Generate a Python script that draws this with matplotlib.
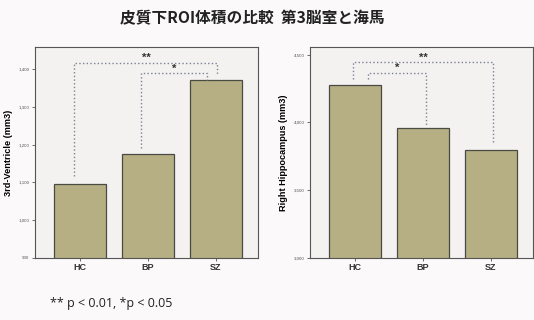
import matplotlib.pyplot as plt
import numpy as np

# グループと各ROIの平均体積
groups = ['HC', 'BP', 'SZ']
ventricle = [1096, 1174, 1370]
hippocampus = [4279, 3959, 3799]

ventricle_ticks = [900, 1000, 1100, 1200, 1300, 1400]
hippo_ticks = [3000, 3500, 4000, 4500]

# 有意差の組み合わせ (群i, 群j, 記号)
ventricle_sig = [(0, 2, '**'), (1, 2, '*')]
hippo_sig = [(0, 2, '**'), (0, 1, '*')]

bar_color = '#b6af83'
edge_color = '#4a4a44'
panel_bg = '#f4f1f1'
line_color = '#7a8294'

plt.rcParams['font.family'] = ['Liberation Sans', 'DejaVu Sans']

fig = plt.figure(figsize=(5.34, 3.2), dpi=100)
fig.patch.set_facecolor('#fbf9f9')


def draw_panel(ax, values, ticks, ylim, ylabel):
    x = np.arange(len(groups))
    ax.set_facecolor(panel_bg)
    ax.bar(x, values, width=0.76, color=bar_color, edgecolor=edge_color, linewidth=0.9, zorder=2)
    ax.set_xlim(-0.66, 2.62)
    ax.set_ylim(*ylim)
    ax.set_xticks(x)
    ax.set_xticklabels(groups, fontsize=6.5, fontweight='bold', color='#333333')
    ax.set_yticks(ticks)
    ax.set_yticklabels([f'{t:,}' for t in ticks], fontsize=3.2, color='#555555')
    ax.tick_params(axis='both', length=2.5, width=0.6, color='#555555', pad=1.5)
    ax.set_ylabel(ylabel, fontsize=6.6, fontweight='bold', labelpad=4)
    for sp in ax.spines.values():
        sp.set_color('#555555')
        sp.set_linewidth(0.8)


def bracket(ax, i, j, y_left, y_right, top, dx_left, dx_right, label):
    xl = i + dx_left
    xr = j + dx_right
    ax.plot([xl, xl, xr, xr], [y_left, top, top, y_right], color=line_color,
            linestyle=':', linewidth=1.0, zorder=3)
    ax.text((xl + xr) / 2, top, label, ha='center', va='bottom', fontsize=8,
            fontweight='bold', color='#333333')


# 第3脳室
ax1 = fig.add_axes([0.0655, 0.194, 0.418, 0.659])
draw_panel(ax1, ventricle, ventricle_ticks, (900, 1458), '3rd-Ventricle (mm3)')
for (i, j, lab), top, dl, dr, gl, gr in zip(ventricle_sig, [1417, 1388], [-0.08, -0.1], [0.02, -0.13],
                                          [20, 18], [17, 2]):
    bracket(ax1, i, j, ventricle[i] + gl, ventricle[j] + gr, top, dl, dr, lab)

# 右海馬
ax2 = fig.add_axes([0.5805, 0.194, 0.418, 0.659])
draw_panel(ax2, hippocampus, hippo_ticks, (3000, 4557), 'Right Hippocampus (mm3)')
for (i, j, lab), top, dl, dr, gl, gr in zip(hippo_sig, [4443, 4365], [-0.03, 0.19], [0.03, 0.04],
                                          [44, 44], [52, 24]):
    bracket(ax2, i, j, hippocampus[i] + gl, hippocampus[j] + gr, top, dl, dr, lab)

fig.text(0.473, 0.944, '皮質下ROI体積の比較  第3脳室と海馬', ha='center', va='center',
         fontsize=11.3, fontweight='bold', family=['Noto Sans CJK JP', 'DejaVu Sans'], color='#222222')
fig.text(0.094, 0.053, '** p < 0.01, *p < 0.05', ha='left', va='center', fontsize=9,
         family=['Open Sans', 'DejaVu Sans'], color='#222222')

fig.savefig('out.png', dpi=100, facecolor=fig.get_facecolor())
